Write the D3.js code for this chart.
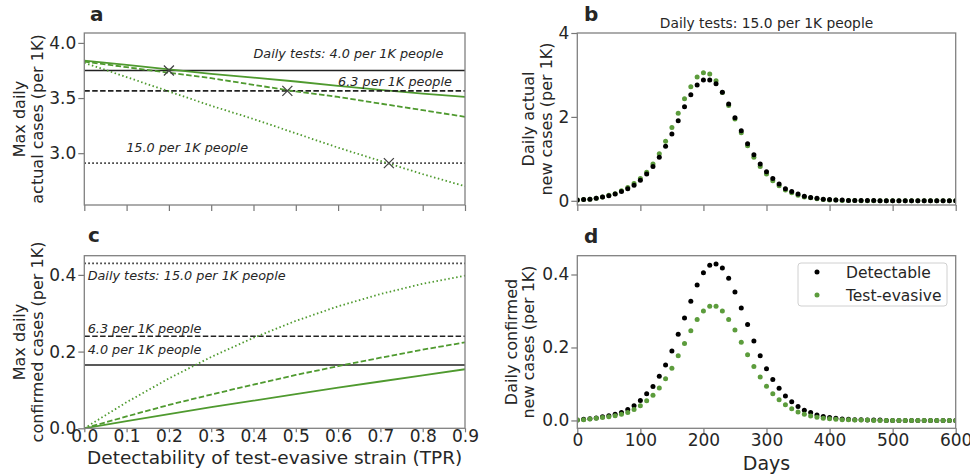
<!DOCTYPE html>
<html>
<head>
<meta charset="utf-8">
<script src="https://cdn.jsdelivr.net/npm/d3@7"></script>
<style>
  body { margin: 0; background: #fff; }
  text { font-family: "DejaVu Sans", sans-serif; fill: #262626; }
</style>
</head>
<body>
<div id="chart"></div>
<script>
// ---- data ----
var tpr = [0, 0.1, 0.2, 0.3, 0.4, 0.5, 0.6, 0.7, 0.8, 0.9];
var testLevels = ["4.0", "6.3", "15.0"];

// panel a: max daily actual cases (per 1K)
var maxActualEvasive = {
  "4.0":  [3.84, 3.80, 3.76, 3.72, 3.685, 3.65, 3.61, 3.575, 3.54, 3.51],
  "6.3":  [3.83, 3.78, 3.73, 3.68, 3.62, 3.56, 3.51, 3.45, 3.39, 3.33],
  "15.0": [3.82, 3.69, 3.56, 3.43, 3.31, 3.18, 3.05, 2.93, 2.81, 2.70]
};
var maxActualDetectable = {"4.0": 3.75, "6.3": 3.565, "15.0": 2.91};
var crossTpr = {"4.0": 0.2, "6.3": 0.48, "15.0": 0.72};

// panel c: max daily confirmed cases (per 1K)
var maxConfirmedEvasive = {
  "4.0":  [0, 0.019, 0.037, 0.055, 0.072, 0.089, 0.106, 0.122, 0.138, 0.154],
  "6.3":  [0, 0.031, 0.061, 0.088, 0.114, 0.139, 0.162, 0.184, 0.205, 0.224],
  "15.0": [0, 0.068, 0.130, 0.186, 0.236, 0.280, 0.318, 0.350, 0.377, 0.398]
};
var maxConfirmedDetectable = {"4.0": 0.165, "6.3": 0.24, "15.0": 0.43};

// panels b, d: daily series every 10 days (15.0 tests per 1K)
var days = d3.range(0, 601, 10);
var actualDetectable = [0.02, 0.03, 0.04, 0.06, 0.09, 0.12, 0.16, 0.22, 0.29, 0.37,
  0.49, 0.64, 0.82, 1.04, 1.30, 1.59, 1.91, 2.24, 2.53, 2.76,
  2.88, 2.88, 2.79, 2.59, 2.31, 1.98, 1.67, 1.36, 1.10, 0.88,
  0.69, 0.53, 0.40, 0.29, 0.22, 0.16, 0.11, 0.08, 0.06, 0.04,
  0.03, 0.02, 0.02, 0.01, 0.01, 0.01, 0.01, 0.01, 0.0, 0.0,
  0.0, 0.0, 0.0, 0.0, 0.0, 0.0, 0.0, 0.0, 0.0, 0.0, 0.0];
var actualEvasive = [0.02, 0.03, 0.04, 0.06, 0.09, 0.13, 0.17, 0.24, 0.32, 0.41,
  0.53, 0.68, 0.88, 1.12, 1.42, 1.75, 2.09, 2.43, 2.72, 2.95,
  3.05, 3.02, 2.86, 2.58, 2.27, 1.95, 1.62, 1.31, 1.04, 0.82,
  0.64, 0.48, 0.36, 0.26, 0.19, 0.13, 0.09, 0.07, 0.05, 0.03,
  0.02, 0.02, 0.01, 0.01, 0.01, 0.0, 0.0, 0.0, 0.0, 0.0,
  0.0, 0.0, 0.0, 0.0, 0.0, 0.0, 0.0, 0.0, 0.0, 0.0, 0.0];
var confirmedDetectable = [0.001, 0.003, 0.005, 0.007, 0.010, 0.013, 0.017, 0.022, 0.030, 0.040,
  0.055, 0.073, 0.093, 0.121, 0.152, 0.190, 0.236, 0.281, 0.327, 0.371,
  0.405, 0.425, 0.429, 0.418, 0.390, 0.352, 0.308, 0.263, 0.218, 0.177,
  0.142, 0.112, 0.088, 0.067, 0.051, 0.038, 0.028, 0.022, 0.015, 0.011,
  0.008, 0.006, 0.004, 0.003, 0.002, 0.002, 0.001, 0.001, 0.001, 0.0,
  0.0, 0.0, 0.0, 0.0, 0.0, 0.0, 0.0, 0.0, 0.0, 0.0, 0.0];
var confirmedEvasive = [0.001, 0.002, 0.004, 0.006, 0.008, 0.010, 0.013, 0.017, 0.022, 0.030,
  0.040, 0.054, 0.069, 0.089, 0.114, 0.143, 0.177, 0.211, 0.246, 0.277,
  0.300, 0.313, 0.313, 0.300, 0.277, 0.248, 0.214, 0.180, 0.148, 0.119,
  0.094, 0.073, 0.057, 0.043, 0.032, 0.023, 0.017, 0.012, 0.009, 0.006,
  0.005, 0.003, 0.002, 0.002, 0.001, 0.001, 0.001, 0.0, 0.0, 0.0,
  0.0, 0.0, 0.0, 0.0, 0.0, 0.0, 0.0, 0.0, 0.0, 0.0, 0.0];

var tprTicks = [0, 0.1, 0.2, 0.3, 0.4, 0.5, 0.6, 0.7, 0.8, 0.9];
var dayTicks = [0, 100, 200, 300, 400, 500, 600];

var green = "#4f9a2f";
var dotGreen = "#5c9c3c";
var dashes = {"4.0": null, "6.3": "5.5,2.4", "15.0": "1.5,2.5"};

var svg = d3.select("#chart").append("svg")
  .attr("width", 970)
  .attr("height", 475);

// makes one panel box with axes; returns scales + group
function panel(box, xDomain, yDomain, xTicks, yTicks, yFmt, xLabelY, xTickLen) {
  var g = svg.append("g");
  var x = d3.scaleLinear().domain(xDomain).range([box.left, box.right]);
  var y = d3.scaleLinear().domain(yDomain).range([box.bottom, box.top]);
  var clipId = "clip" + Math.round(box.left) + Math.round(box.top);
  svg.append("clipPath").attr("id", clipId).append("rect")
    .attr("x", box.left).attr("y", box.top)
    .attr("width", box.right - box.left).attr("height", box.bottom - box.top);
  var plot = g.append("g").attr("clip-path", "url(#" + clipId + ")");

  var xa = g.append("g")
    .attr("transform", "translate(0," + box.bottom + ")")
    .call(d3.axisBottom(x).tickValues(xTicks).tickSize(xTickLen || 6)
      .tickFormat(xLabelY == null ? "" : (xDomain[1] > 10 ? d3.format("d") : d3.format(".1f"))));
  if (xLabelY != null) xa.selectAll("text").attr("y", xLabelY);
  var ya = g.append("g")
    .attr("transform", "translate(" + box.left + ",0)")
    .call(d3.axisLeft(y).tickValues(yTicks).tickSize(6).tickPadding(2).tickFormat(yFmt));
  [xa, ya].forEach(function(a) {
    a.select(".domain").remove();
    a.selectAll("line").attr("stroke", "#777").attr("stroke-width", 1.2);
    a.selectAll("text").style("font-size", "17px").attr("fill", "#262626");
  });
  g.append("rect")
    .attr("x", box.left).attr("y", box.top)
    .attr("width", box.right - box.left).attr("height", box.bottom - box.top)
    .attr("fill", "none").attr("stroke", "#808080").attr("stroke-width", 1.3);
  return {x: x, y: y, g: g, plot: plot};
}

function panelLetter(s, px, py) {
  svg.append("text").attr("x", px).attr("y", py)
    .style("font-size", "20px").style("font-weight", "bold").attr("fill", "#111").text(s);
}

function yLabel(lines, cx, cy, gap) {
  var t = svg.append("text")
    .attr("transform", "translate(" + cx + "," + cy + ") rotate(-90)")
    .attr("text-anchor", "middle")
    .style("font-size", "16px");
  lines.forEach(function(l, i) {
    t.append("tspan").attr("x", 0).attr("dy", i == 0 ? 0 : gap).text(l);
  });
}

var colL = {left: 84.3, right: 465};
var colR = {left: 577.3, right: 955.7};
var rowT = {top: 33, bottom: 205};
var rowB = {top: 255.7, bottom: 428.3};

// ---------- a ----------
var pa = panel({left: colL.left, right: colL.right, top: rowT.top, bottom: rowT.bottom},
  [0, 0.9], [2.53, 4.09], tprTicks, [3.0, 3.5, 4.0], d3.format(".1f"), null);
testLevels.forEach(function(k) {
  pa.plot.append("line")
    .attr("x1", pa.x(0)).attr("x2", pa.x(0.9))
    .attr("y1", pa.y(maxActualDetectable[k])).attr("y2", pa.y(maxActualDetectable[k]))
    .attr("stroke", "#222").attr("stroke-width", 1.6)
    .attr("stroke-dasharray", dashes[k]);
  pa.plot.append("path")
    .datum(tpr)
    .attr("fill", "none")
    .attr("stroke", green).attr("stroke-width", 1.8)
    .attr("stroke-dasharray", dashes[k])
    .attr("d", d3.line()
      .x(function(d) { return pa.x(d); })
      .y(function(d, i) { return pa.y(maxActualEvasive[k][i]); }));
});
testLevels.forEach(function(k) {
  var cx = pa.x(crossTpr[k]), cy = pa.y(maxActualDetectable[k]);
  pa.plot.append("path")
    .attr("d", "M" + (cx - 5) + "," + (cy - 5) + "L" + (cx + 5) + "," + (cy + 5) +
      "M" + (cx - 5) + "," + (cy + 5) + "L" + (cx + 5) + "," + (cy - 5))
    .attr("stroke", "#444").attr("stroke-width", 1.3);
});
var annA = [
  {t: "Daily tests: 4.0 per 1K people", x: 0.40, y: 3.862},
  {t: "6.3 per 1K people", x: 0.60, y: 3.612},
  {t: "15.0 per 1K people", x: 0.099, y: 3.01}
];
annA.forEach(function(a) {
  pa.g.append("text").attr("x", pa.x(a.x)).attr("y", pa.y(a.y))
    .style("font-size", "12.8px").style("font-style", "italic").text(a.t);
});
panelLetter("a", 90, 21);
yLabel(["Max daily", "actual cases (per 1K)"], 25, 119, "1.1em");

// ---------- c ----------
var pc = panel({left: colL.left, right: colL.right, top: rowB.top, bottom: rowB.bottom},
  [0, 0.9], [0, 0.45], tprTicks, [0, 0.2, 0.4], d3.format(".1f"), 1.5, 4);
testLevels.forEach(function(k) {
  pc.plot.append("line")
    .attr("x1", pc.x(0)).attr("x2", pc.x(0.9))
    .attr("y1", pc.y(maxConfirmedDetectable[k])).attr("y2", pc.y(maxConfirmedDetectable[k]))
    .attr("stroke", "#222").attr("stroke-width", 1.6)
    .attr("stroke-dasharray", dashes[k]);
  pc.plot.append("path")
    .datum(tpr)
    .attr("fill", "none")
    .attr("stroke", green).attr("stroke-width", 1.8)
    .attr("stroke-dasharray", dashes[k])
    .attr("d", d3.line()
      .x(function(d) { return pc.x(d); })
      .y(function(d, i) { return pc.y(maxConfirmedEvasive[k][i]); }));
});
var annC = [
  {t: "Daily tests: 15.0 per 1K people", x: 0.008, y: 0.387},
  {t: "6.3 per 1K people", x: 0.008, y: 0.249},
  {t: "4.0 per 1K people", x: 0.008, y: 0.193}
];
annC.forEach(function(a) {
  pc.g.append("text").attr("x", pc.x(a.x)).attr("y", pc.y(a.y))
    .style("font-size", "12.8px").style("font-style", "italic").text(a.t);
});
pc.g.append("text")
  .attr("x", (colL.left + colL.right) / 2).attr("y", 464)
  .attr("text-anchor", "middle").style("font-size", "18.5px")
  .text("Detectability of test-evasive strain (TPR)");
panelLetter("c", 88, 242);
yLabel(["Max daily", "confirmed cases (per 1K)"], 25, 342, "1.1em");

// ---------- b ----------
var pb = panel({left: colR.left, right: colR.right, top: rowT.top, bottom: rowT.bottom},
  [0, 600], [-0.1, 4], dayTicks, [0, 2, 4], d3.format("d"), null);
function dots(p, vals, color) {
  p.plot.append("g").selectAll("circle")
    .data(days)
    .join("circle")
    .attr("cx", function(d) { return p.x(d); })
    .attr("cy", function(d, i) { return p.y(vals[i]); })
    .attr("r", 2.5)
    .attr("fill", color);
}
dots(pb, actualEvasive, dotGreen);
dots(pb, actualDetectable, "#000");
pb.g.append("text")
  .attr("x", (colR.left + colR.right) / 2).attr("y", 27.5)
  .attr("text-anchor", "middle").style("font-size", "13.8px")
  .text("Daily tests: 15.0 per 1K people");
panelLetter("b", 584, 21);
yLabel(["Daily actual", "new cases (per 1K)"], 534, 119, "1.15em");

// ---------- d ----------
var pd = panel({left: colR.left, right: colR.right, top: rowB.top, bottom: rowB.bottom},
  [0, 600], [-0.0215, 0.4515], dayTicks, [0, 0.2, 0.4], d3.format(".1f"), 5.7);
dots(pd, confirmedDetectable, "#000");
dots(pd, confirmedEvasive, dotGreen);
pd.g.append("text")
  .attr("x", (colR.left + colR.right) / 2).attr("y", 470)
  .attr("text-anchor", "middle").style("font-size", "19px")
  .text("Days");
panelLetter("d", 584, 243);
yLabel(["Daily confirmed", "new cases (per 1K)"], 517, 342, "1.05em");

// legend
var leg = pd.g.append("g");
leg.append("rect")
  .attr("x", 798).attr("y", 263).attr("width", 149).attr("height", 43)
  .attr("rx", 3).attr("fill", "#fff").attr("fill-opacity", 0.8)
  .attr("stroke", "#d0d0d0").attr("stroke-width", 1);
var legItems = [{t: "Detectable", c: "#000"}, {t: "Test-evasive", c: dotGreen}];
legItems.forEach(function(it, i) {
  leg.append("circle").attr("cx", 817).attr("cy", 272 + i * 23).attr("r", 2.5).attr("fill", it.c);
  leg.append("text").attr("x", 846).attr("y", 278 + i * 23)
    .style("font-size", "15.5px").text(it.t);
});
</script>
</body>
</html>
